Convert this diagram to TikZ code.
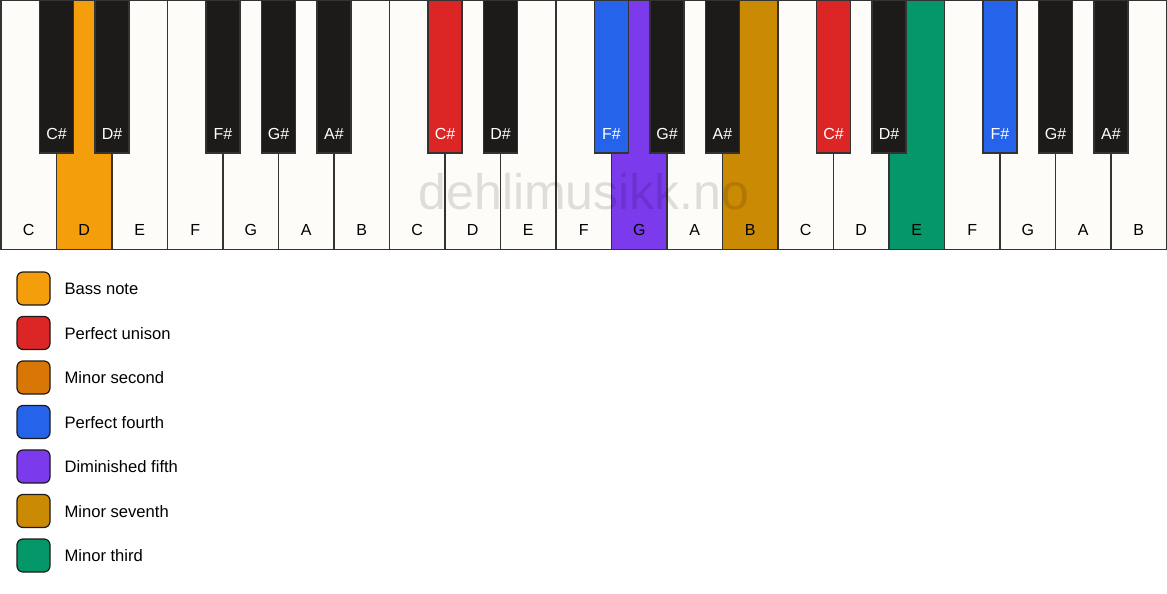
\documentclass[tikz,border=0pt]{standalone}
\usepackage{fontspec}
\setmainfont{Liberation Sans}
\usetikzlibrary{positioning}

\definecolor{ivory}{HTML}{FDFCF8}
\definecolor{ebony}{HTML}{1C1B1A}
\definecolor{edge}{HTML}{333333}
\definecolor{bass}{HTML}{F59E0B}
\definecolor{unison}{HTML}{DC2626}
\definecolor{minsecond}{HTML}{D97706}
\definecolor{fourth}{HTML}{2563EB}
\definecolor{dimfifth}{HTML}{7C3AED}
\definecolor{minseventh}{HTML}{CA8A04}
\definecolor{minthird}{HTML}{059669}

\tikzset{
  whitekey/.style={draw=edge,line width=1.4pt,fill=ivory,minimum width=55.5pt,minimum height=249pt,inner sep=0pt},
  blackkey/.style={draw=edge,line width=1.2pt,fill=ebony,minimum width=34pt,minimum height=153pt,inner sep=0pt},
  wlabel/.style={yshift=20pt,font=\fontsize{16}{16}\selectfont,text=black},
  blabel/.style={yshift=20pt,font=\fontsize{16}{16}\selectfont,text=white},
  swatch/.style={draw=ebony,line width=1.2pt,rounded corners=6pt,minimum size=33pt,inner sep=0pt},
  legtext/.style={anchor=west,font=\fontsize{16.6}{16.6}\selectfont}
}

\begin{document}
\begin{tikzpicture}[x=1pt,y=-1pt]
        \useasboundingbox[fill=white] (0,0) rectangle (1167,594);

        % white keys
        \node[whitekey] (C1) at (28.75,125) {};
        \node[whitekey,fill=bass] (D1) at (84.25,125) {};
        \node[whitekey] (E1) at (139.75,125) {};
        \node[whitekey] (F1) at (195.25,125) {};
        \node[whitekey] (G1) at (250.75,125) {};
        \node[whitekey] (A1) at (306.25,125) {};
        \node[whitekey] (B1) at (361.75,125) {};
        \node[whitekey] (C2) at (417.25,125) {};
        \node[whitekey] (D2) at (472.75,125) {};
        \node[whitekey] (E2) at (528.25,125) {};
        \node[whitekey] (F2) at (583.75,125) {};
        \node[whitekey,fill=dimfifth] (G2) at (639.25,125) {};
        \node[whitekey] (A2) at (694.75,125) {};
        \node[whitekey,fill=minseventh] (B2) at (750.25,125) {};
        \node[whitekey] (C3) at (805.75,125) {};
        \node[whitekey] (D3) at (861.25,125) {};
        \node[whitekey,fill=minthird] (E3) at (916.75,125) {};
        \node[whitekey] (F3) at (972.25,125) {};
        \node[whitekey] (G3) at (1027.75,125) {};
        \node[whitekey] (A3) at (1083.25,125) {};
        \node[whitekey] (B3) at (1138.75,125) {};

        \node[wlabel] (tC1) at (C1.south) {C};
        \node[wlabel] (tD1) at (D1.south) {D};
        \node[wlabel] (tE1) at (E1.south) {E};
        \node[wlabel] (tF1) at (F1.south) {F};
        \node[wlabel] (tG1) at (G1.south) {G};
        \node[wlabel] (tA1) at (A1.south) {A};
        \node[wlabel] (tB1) at (B1.south) {B};
        \node[wlabel] (tC2) at (C2.south) {C};
        \node[wlabel] (tD2) at (D2.south) {D};
        \node[wlabel] (tE2) at (E2.south) {E};
        \node[wlabel] (tF2) at (F2.south) {F};
        \node[wlabel] (tG2) at (G2.south) {G};
        \node[wlabel] (tA2) at (A2.south) {A};
        \node[wlabel] (tB2) at (B2.south) {B};
        \node[wlabel] (tC3) at (C3.south) {C};
        \node[wlabel] (tD3) at (D3.south) {D};
        \node[wlabel] (tE3) at (E3.south) {E};
        \node[wlabel] (tF3) at (F3.south) {F};
        \node[wlabel] (tG3) at (G3.south) {G};
        \node[wlabel] (tA3) at (A3.south) {A};
        \node[wlabel] (tB3) at (B3.south) {B};

        % black keys
        \node[blackkey] (Cs1) at (56.5,76.5) {};
        \node[blackkey] (Ds1) at (112,76.5) {};
        \node[blackkey] (Fs1) at (223,76.5) {};
        \node[blackkey] (Gs1) at (278.5,76.5) {};
        \node[blackkey] (As1) at (334,76.5) {};
        \node[blackkey,fill=unison] (Cs2) at (445,76.5) {};
        \node[blackkey] (Ds2) at (500.5,76.5) {};
        \node[blackkey,fill=fourth] (Fs2) at (611.5,76.5) {};
        \node[blackkey] (Gs2) at (667,76.5) {};
        \node[blackkey] (As2) at (722.5,76.5) {};
        \node[blackkey,fill=unison] (Cs3) at (833.5,76.5) {};
        \node[blackkey] (Ds3) at (889,76.5) {};
        \node[blackkey,fill=fourth] (Fs3) at (1000,76.5) {};
        \node[blackkey] (Gs3) at (1055.5,76.5) {};
        \node[blackkey] (As3) at (1111,76.5) {};

        \node[blabel] (tCs1) at (Cs1.south) {C\#};
        \node[blabel] (tDs1) at (Ds1.south) {D\#};
        \node[blabel] (tFs1) at (Fs1.south) {F\#};
        \node[blabel] (tGs1) at (Gs1.south) {G\#};
        \node[blabel] (tAs1) at (As1.south) {A\#};
        \node[blabel] (tCs2) at (Cs2.south) {C\#};
        \node[blabel] (tDs2) at (Ds2.south) {D\#};
        \node[blabel] (tFs2) at (Fs2.south) {F\#};
        \node[blabel] (tGs2) at (Gs2.south) {G\#};
        \node[blabel] (tAs2) at (As2.south) {A\#};
        \node[blabel] (tCs3) at (Cs3.south) {C\#};
        \node[blabel] (tDs3) at (Ds3.south) {D\#};
        \node[blabel] (tFs3) at (Fs3.south) {F\#};
        \node[blabel] (tGs3) at (Gs3.south) {G\#};
        \node[blabel] (tAs3) at (As3.south) {A\#};

        % watermark
        \node[font=\fontsize{50}{50}\selectfont,text=black,text opacity=0.12] (mark) at (584,192) {dehlimusikk.no};

        % legend
        \node[swatch,fill=bass] (s1) at (33.5,288.5) {};
        \node[swatch,fill=unison] (s2) at (33.5,333) {};
        \node[swatch,fill=minsecond] (s3) at (33.5,377.5) {};
        \node[swatch,fill=fourth] (s4) at (33.5,422) {};
        \node[swatch,fill=dimfifth] (s5) at (33.5,466.5) {};
        \node[swatch,fill=minseventh] (s6) at (33.5,511) {};
        \node[swatch,fill=minthird] (s7) at (33.5,555.5) {};

        \node[legtext] (l1) at (61,289) {Bass note};
        \node[legtext] (l2) at (61,333.5) {Perfect unison};
        \node[legtext] (l3) at (61,378) {Minor second};
        \node[legtext] (l4) at (61,422.5) {Perfect fourth};
        \node[legtext] (l5) at (61,467) {Diminished fifth};
        \node[legtext] (l6) at (61,511.5) {Minor seventh};
        \node[legtext] (l7) at (61,556) {Minor third};
      \end{tikzpicture}
\end{document}
